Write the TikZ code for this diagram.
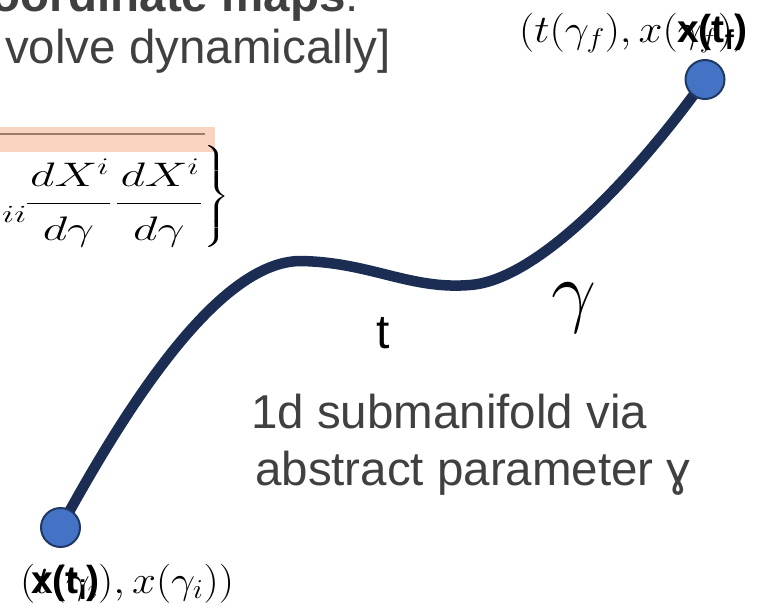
\RequirePackage{fix-cm}
\documentclass[tikz,border=0pt]{standalone}
\usepackage{amsmath}
\usepackage{graphicx}
\usepackage{fontspec}
\newfontfamily\arial{Liberation Sans}
\definecolor{txtgray}{HTML}{404040}
\definecolor{curvenavy}{HTML}{1B2D52}
\definecolor{dotblue}{HTML}{4472C4}
\definecolor{dotedge}{HTML}{1F3864}
\definecolor{peach}{HTML}{F9D5C1}
\definecolor{barline}{HTML}{9C7B6B}
\begin{document}
\begin{tikzpicture}[x=1pt,y=-1pt,
  slidetext/.style={font=\arial\fontsize{47.5}{57}\selectfont, text=txtgray, inner sep=0pt, anchor=base west},
  mathlabel/.style={inner sep=0pt, anchor=base west, font=\fontsize{39}{45}\selectfont},
  boldlabel/.style={inner sep=0pt, anchor=base west, font=\arial\bfseries\fontsize{39}{44}\selectfont},
  enddot/.style={circle, fill=dotblue, draw=dotedge, line width=2pt, minimum size=39pt, inner sep=0pt},
  curveline/.style={draw=curvenavy, line width=10.5pt}]
\useasboundingbox (0,0) rectangle (757,610);
\clip (0,0) rectangle (757,610);

% header text (cropped)
\node[slidetext, anchor=base east] (title) at (359,12) {\textbf{oordinate maps}:};
\node[slidetext] (subtitle) at (5,63.5) {volve dynamically]};

% highlighted bar with fraction line
\fill[peach] (0,127) rectangle (215,152);
\draw[barline, line width=2pt] (0,134) -- (205,134);

% metric formula (cropped)
\node[inner sep=0pt, anchor=base west] (sub) at (2,222.5)
  {\scalebox{1.25}[0.85]{\fontsize{29}{31}\selectfont$ii$}};
\node[inner sep=0pt, anchor=base west] (eq) at (25,211.5)
  {\scalebox{1.2}[0.85]{\fontsize{40}{48}\selectfont$\displaystyle
   \frac{\hspace{3pt}dX^i\hspace{1pt}\rule[-15.6pt]{0pt}{0pt}}{d\gamma\rule{0pt}{40.3pt}}\hspace{3pt}
   \frac{\hspace{3pt}dX^i\hspace{1pt}\rule[-15.6pt]{0pt}{0pt}}{d\gamma\rule{0pt}{40.3pt}}
   \raisebox{7.6pt}{$\displaystyle\left.\vcenter{\hbox{\rule{0pt}{118pt}}}\right\}$}$}};

% the curve
\coordinate (pi) at (60.5,527.5);
\coordinate (pf) at (705,79.5);
\draw[curveline] (pi) .. controls (130,400) and (220,262) .. (300,261)
  .. controls (370,262) and (410,290) .. (470,285)
  .. controls (540,280) and (640,170) .. (pf);
\node[enddot] (di) at (pi) {};
\node[enddot] (df) at (pf) {};

% end point labels (overlapping as in the original)
\node[mathlabel] (lf) at (519,42) {\scalebox{1.1}[1]{$(t(\gamma_f), x(\gamma_f))$}};
\node[boldlabel] (bf) at (677,43) {x(t\textsubscript{f})};
\node[mathlabel] (li) at (20,593) {\scalebox{1.1}[1]{$(t(\gamma_i), x(\gamma_i))$}};
\node[boldlabel] (bi) at (31,593) {x(t\textsubscript{i})};

% curve labels
\node[inner sep=0pt, anchor=base, font=\arial\fontsize{48}{50}\selectfont] (tl) at (383,348) {t};
\node[inner sep=0pt, anchor=base west, font=\fontsize{80}{90}\selectfont] (gl) at (551,317.5) {$\gamma$};

% description
\node[slidetext] (desc1) at (251,428) {1d submanifold via};
\node[slidetext] (desc2) at (255,485) {abstract parameter ɣ};
\end{tikzpicture}
\end{document}
